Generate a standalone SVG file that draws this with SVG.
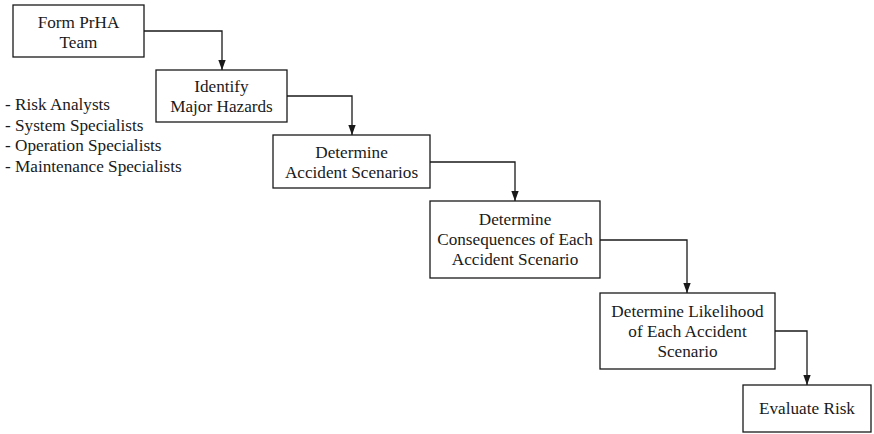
<svg xmlns="http://www.w3.org/2000/svg" width="874" height="434" viewBox="0 0 874 434">
<style>
.box{fill:#fff;stroke:#1a1a1a;stroke-width:1.3}
.t{font-family:"Liberation Serif","Times New Roman",serif;font-size:17.2px;fill:#1a1a1a;text-anchor:middle}
.l{font-family:"Liberation Serif","Times New Roman",serif;font-size:17.2px;fill:#1a1a1a}
.c{fill:none;stroke:#1a1a1a;stroke-width:1.3}
</style>
<defs>
<marker id="ah" markerUnits="userSpaceOnUse" markerWidth="10" markerHeight="10" viewBox="0 0 10 10" refX="10" refY="5" orient="auto">
<path d="M0,1.3 L10,5 L0,8.7 Z" fill="#1a1a1a"/>
</marker>
</defs>
<rect width="874" height="434" fill="#fff"/>
<g id="connectors">
<path class="c" d="M144,31 H222 V70" marker-end="url(#ah)"/>
<path class="c" d="M287,96 H352 V135" marker-end="url(#ah)"/>
<path class="c" d="M430,162 H515 V201" marker-end="url(#ah)"/>
<path class="c" d="M600,240 H687 V293" marker-end="url(#ah)"/>
<path class="c" d="M775,331 H807 V385" marker-end="url(#ah)"/>
</g>
<g id="n1">
<rect class="box" x="13" y="5" width="131" height="52"/>
<text class="t" x="78.5" y="27.5">Form PrHA</text>
<text class="t" x="78.5" y="47.5">Team</text>
</g>
<g id="n2">
<rect class="box" x="156" y="70" width="131" height="52"/>
<text class="t" x="221.5" y="92">Identify</text>
<text class="t" x="221.5" y="112">Major Hazards</text>
</g>
<g id="team">
<text class="l" x="5" y="110">- Risk Analysts</text>
<text class="l" x="5" y="130.6">- System Specialists</text>
<text class="l" x="5" y="151.2">- Operation Specialists</text>
<text class="l" x="5" y="171.8">- Maintenance Specialists</text>
</g>
<g id="n3">
<rect class="box" x="273" y="135" width="157" height="53"/>
<text class="t" x="351.5" y="157.5">Determine</text>
<text class="t" x="351.5" y="177.5">Accident Scenarios</text>
</g>
<g id="n4">
<rect class="box" x="430" y="201" width="170" height="77"/>
<text class="t" x="515" y="225.2">Determine</text>
<text class="t" x="515" y="245.2">Consequences of Each</text>
<text class="t" x="515" y="265.2">Accident Scenario</text>
</g>
<g id="n5">
<rect class="box" x="600" y="293" width="175" height="76"/>
<text class="t" x="687.5" y="316.7">Determine Likelihood</text>
<text class="t" x="687.5" y="336.7">of Each Accident</text>
<text class="t" x="687.5" y="356.7">Scenario</text>
</g>
<g id="n6">
<rect class="box" x="743" y="385" width="128" height="47"/>
<text class="t" x="807" y="414.3">Evaluate Risk</text>
</g>
</svg>
